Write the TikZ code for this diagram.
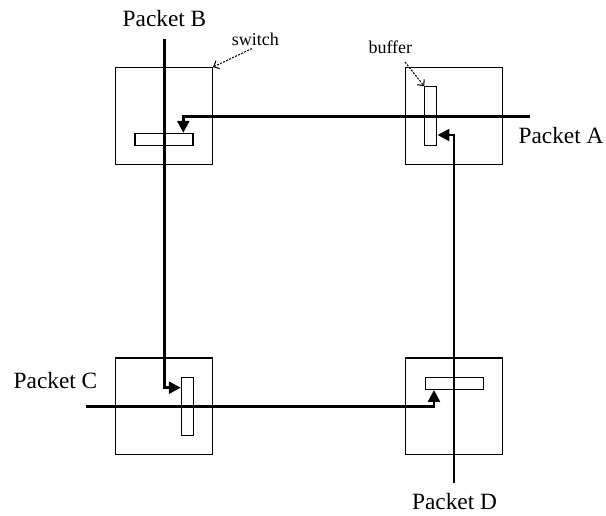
\documentclass[tikz,border=0pt]{standalone}
\usepackage{fontspec}
\setmainfont{Liberation Serif}
\usetikzlibrary{arrows.meta}
\begin{document}
\begin{tikzpicture}[x=0.75pt,y=-0.75pt,
  switchbox/.style={draw, line width=0.9pt, inner sep=0pt, minimum width=72.5pt, minimum height=72.5pt},
  hbuf/.style={draw, line width=0.9pt, inner sep=0pt, minimum width=43.5pt, minimum height=9pt},
  vbuf/.style={draw, line width=0.9pt, inner sep=0pt, minimum width=9pt, minimum height=44pt},
  pkt/.style={line width=2.2pt, line join=miter, -{Triangle[length=9pt,width=8.8pt]}},
  note/.style={dash pattern=on 1.5pt off 1pt, line width=0.8pt, -{Straight Barb[length=3.5pt,width=6.5pt]}},
  pktlabel/.style={font=\fontsize{17.5}{20}\selectfont, inner sep=0pt, anchor=base},
  notelabel/.style={font=\fontsize{13.5}{16}\selectfont, inner sep=0pt, anchor=base west}]
\useasboundingbox (0,0) rectangle (606,515);
% switches
\node[switchbox] (swTL) at (164,116) {};
\node[switchbox] (swTR) at (454.2,116) {};
\node[switchbox] (swBL) at (164,406.4) {};
\node[switchbox] (swBR) at (454.2,406.4) {};
% buffers
\node[hbuf] (bufTL) at (164,139.5) {};
\node[vbuf] (bufTR) at (430.8,116.2) {};
\node[vbuf] (bufBL) at (187.5,406.5) {};
\node[hbuf] (bufBR) at (454.2,383.3) {};
% packet paths
\coordinate (aIn) at (530,116.7);
\coordinate (aTurn) at (183.3,116.7);
\coordinate (bIn) at (164.3,39);
\coordinate (bTurn) at (164.3,387.7);
\coordinate (cIn) at (86,406.7);
\coordinate (cTurn) at (434,406.7);
\coordinate (dIn) at (454,483);
\coordinate (dTurn) at (454,135);
\draw[pkt] (aIn) -- (aTurn) -- (aTurn |- bufTL.north);
\draw[pkt] (bIn) -- (bTurn) -- (bTurn -| bufBL.west);
\draw[pkt] (cIn) -- (cTurn) -- (cTurn |- bufBR.south);
\draw[pkt] (dIn) -- (dTurn) -- (dTurn -| bufTR.east);
% labels
\node[pktlabel] (lA) at (561,143.3) {Packet A};
\node[pktlabel] (lB) at (164.5,26.7) {Packet B};
\node[pktlabel] (lC) at (55.5,388.3) {Packet C};
\node[pktlabel] (lD) at (454.5,509) {Packet D};
\node[notelabel] (lsw) at (231.7,45) {switch};
\node[notelabel] (lbuf) at (368.3,53.3) {buffer};
\coordinate (swFrom) at (252,48.5);
\coordinate (bufFrom) at (405,62);
\draw[note] (swFrom) -- (swTL.north east);
\draw[note] (bufFrom) -- (bufTR.north west);
\end{tikzpicture}
\end{document}
